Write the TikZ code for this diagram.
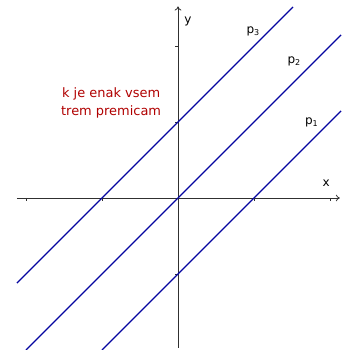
\documentclass[tikz,border=0pt]{standalone}
\usepackage{fontspec}
\setmainfont{DejaVu Sans}
\usepackage{xcolor}
\definecolor{lineBlue}{HTML}{0505A0}
\definecolor{noteRed}{HTML}{B00000}
\definecolor{axisGray}{HTML}{303030}
\usetikzlibrary{arrows.meta}
\tikzset{
    % Axis lines with a thin open tip
    axis/.style={
        draw=axisGray,
        line width=0.6pt,
        -{To[length=3pt, width=5pt]},
    },
    % Small tick marks
    tick/.style={
        draw=axisGray,
        line width=0.6pt,
    },
    % Parallel lines
    premica/.style={
        draw=lineBlue,
        line width=1pt,
    },
    % Labels of lines and axes
    line label/.style={
        font=\fontsize{9}{11}\selectfont,
        text=black,
        inner sep=0pt,
    },
    % Red note
    note/.style={
        font=\fontsize{9.7}{14}\selectfont,
        text=noteRed,
        align=center,
        inner sep=0pt,
    },
}

\begin{document}
\begin{tikzpicture}[x=2cm, y=2cm]
    \useasboundingbox (-2.342,-2.0) rectangle (2.145,2.605);

    % axes
    \draw [axis] (-2.12,0) -- (2.13,0);
    \draw [axis] (0,-1.97) -- (0,2.52);
    \foreach \t in {-2,-1,1,2}
        \draw [tick] (\t,0) -- (\t,-0.04);
    \foreach \t in {-1,1,2}
        \draw [tick] (0,\t) -- (-0.04,\t);

    % lines y = x + k
    \coordinate (p3a) at (-2.12,-1.12);
    \coordinate (p3b) at (1.513,2.513);
    \coordinate (p2a) at (-2.0,-2.0);
    \coordinate (p2b) at (2.145,2.145);
    \coordinate (p1a) at (-1.0,-2.0);
    \coordinate (p1b) at (2.145,1.145);
    \draw [premica] (p3a) -- (p3b);
    \draw [premica] (p2a) -- (p2b);
    \draw [premica] (p1a) -- (p1b);

    % labels
    \node (l3) [line label] at (0.99,2.19) {p\textsubscript{3}};
    \node (l2) [line label] at (1.53,1.80) {p\textsubscript{2}};
    \node (l1) [line label] at (1.76,0.99) {p\textsubscript{1}};
    \node (ly) [line label] at (0.13,2.32) {y};
    \node (lx) [line label] at (1.95,0.20) {x};
    \node (msg) [note] at (-0.88,1.25) {k je enak vsem\\trem premicam};
\end{tikzpicture}
\end{document}
